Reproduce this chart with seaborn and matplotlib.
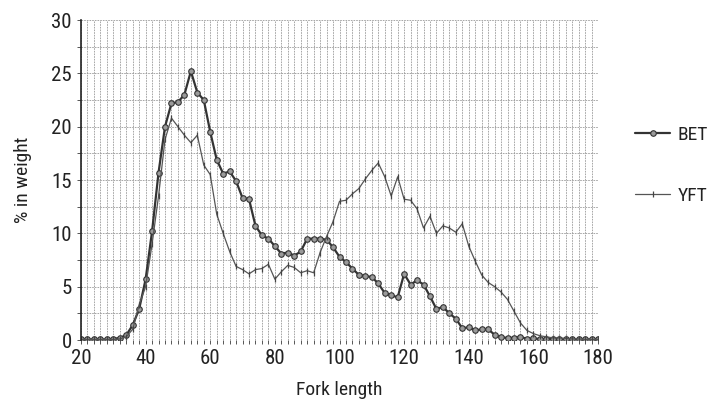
import seaborn as sns
import pandas as pd
import matplotlib.pyplot as plt
from matplotlib.ticker import MultipleLocator

# Fork length classes (2 cm bins)
fork_length = list(range(20, 182, 2))

# % in weight, bigeye tuna
bet = [0.05, 0.05, 0.05, 0.05, 0.05, 0.1, 0.2, 0.45, 1.4, 2.9,
       5.7, 10.2, 15.7, 20.0, 22.2, 22.3, 23.0, 25.2, 23.2, 22.5,
       19.5, 16.9, 15.6, 15.8, 14.9, 13.3, 13.2, 10.7, 9.8, 9.5,
       8.8, 8.1, 8.2, 7.9, 8.3, 9.5, 9.5, 9.5, 9.4, 8.7,
       7.8, 7.3, 6.7, 6.1, 6.0, 5.9, 5.3, 4.4, 4.2, 4.0,
       6.2, 5.2, 5.6, 5.2, 4.1, 2.9, 3.1, 2.5, 2.0, 1.1,
       1.2, 0.9, 1.0, 1.0, 0.5, 0.25, 0.2, 0.2, 0.3, 0.1,
       0.15, 0.1, 0.1, 0.1, 0.1, 0.05, 0.05, 0.05, 0.05, 0.05,
       0.05]

# % in weight, yellowfin tuna
yft = [0.05, 0.05, 0.05, 0.05, 0.05, 0.05, 0.1, 0.3, 1.0, 3.3,
       5.0, 9.0, 13.5, 18.8, 20.8, 20.0, 19.2, 18.5, 19.2, 16.4,
       15.5, 11.8, 10.0, 8.3, 6.9, 6.6, 6.2, 6.6, 6.7, 7.1,
       5.7, 6.4, 7.0, 6.8, 6.3, 6.5, 6.3, 8.2, 9.7, 11.1,
       13.0, 13.1, 13.7, 14.2, 15.1, 15.9, 16.6, 15.3, 13.5, 15.3,
       13.2, 13.1, 12.3, 10.5, 11.6, 10.0, 10.7, 10.5, 10.1, 10.9,
       8.8, 7.4, 6.1, 5.4, 5.0, 4.5, 3.8, 2.7, 1.6, 0.9,
       0.6, 0.4, 0.3, 0.2, 0.2, 0.15, 0.1, 0.1, 0.05, 0.05,
       0.05]

df = pd.DataFrame({'fork': fork_length, 'BET': bet, 'YFT': yft})

sns.set_style("white")
plt.rcParams['font.family'] = ['Roboto Condensed', 'Liberation Sans Narrow', 'Liberation Sans', 'DejaVu Sans']

fig = plt.figure(figsize=(7.1, 4.0), dpi=100)
ax = fig.add_axes([81 / 710, 60 / 400, 517 / 710, 320 / 400])

sns.lineplot(data=df, x='fork', y='BET', ax=ax, color='#333333', lw=1.6,
             marker='o', markersize=4, markerfacecolor='#9a9a9a',
             markeredgecolor='#333333', markeredgewidth=0.8, label='BET')
sns.lineplot(data=df, x='fork', y='YFT', ax=ax, color='#555555', lw=0.9,
             marker='|', markersize=5, markeredgewidth=0.9,
             markeredgecolor='#444444', label='YFT')

ax.set_xlim(20, 180)
ax.set_ylim(0, 30)
ax.xaxis.set_major_locator(MultipleLocator(20))
ax.xaxis.set_minor_locator(MultipleLocator(2))
ax.yaxis.set_major_locator(MultipleLocator(5))
ax.yaxis.set_minor_locator(MultipleLocator(2.5))
ax.grid(which='both', color='#999999', linestyle=(0, (2, 1.2)), lw=0.6)
ax.tick_params(which='both', direction='out', length=3, width=0.7,
               color='#555555', bottom=True, left=True, labelsize=15,
               labelcolor='#222222')
ax.set_axisbelow(True)

for side in ['top', 'right', 'bottom']:
    ax.spines[side].set_visible(False)
ax.spines['left'].set_color('#222222')
ax.spines['left'].set_linewidth(1.2)

ax.set_xlabel('Fork length', fontsize=14, labelpad=9, color='#222222')
ax.set_ylabel('% in weight', fontsize=14, labelpad=14, color='#222222')

ax.get_legend().remove()
handles, labels = ax.get_legend_handles_labels()
fig.legend(handles, labels, loc='upper left', bbox_to_anchor=(635 / 710, 1 - 126 / 400),
           frameon=False, fontsize=14, handlelength=1.8, handletextpad=0.4,
           labelspacing=2.2, borderpad=0, borderaxespad=0, labelcolor='#222222')

plt.savefig('out.png', dpi=100)
